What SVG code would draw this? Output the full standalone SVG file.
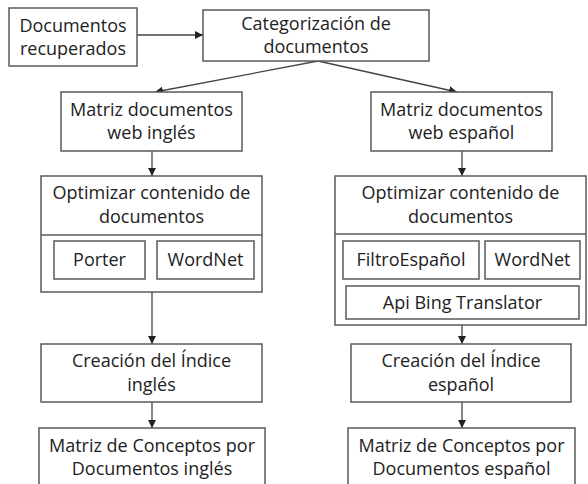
<svg xmlns="http://www.w3.org/2000/svg" width="588" height="484" viewBox="0 0 588 484">
<defs>
<style>
.b{fill:#fff;stroke:#5a5a5a;stroke-width:1.5}
.t{font-family:"Open Sans",sans-serif;font-size:18px;fill:#222;text-anchor:middle}
.c{stroke:#444;stroke-width:1.3;fill:none;marker-end:url(#ah)}
</style>
<marker id="ah" markerUnits="userSpaceOnUse" markerWidth="9" markerHeight="8" refX="8" refY="4" orient="auto">
<path d="M0,0 L8,4 L0,8 z" fill="#222"/>
</marker>
</defs>
<rect width="588" height="484" fill="#fff"/>
<g id="connectors">
<line class="c" x1="137" y1="35" x2="203" y2="35"/>
<line class="c" x1="318" y1="61" x2="155" y2="92"/>
<line class="c" x1="318" y1="61" x2="457" y2="92"/>
<line class="c" x1="152" y1="151" x2="152" y2="176"/>
<line class="c" x1="152" y1="292" x2="152" y2="344"/>
<line class="c" x1="152" y1="402" x2="152" y2="428"/>
<line class="c" x1="462" y1="151" x2="462" y2="176"/>
<line class="c" x1="462" y1="325" x2="462" y2="344"/>
<line class="c" x1="462" y1="402" x2="462" y2="428"/>
</g>
<g id="docs-recuperados">
<rect class="b" x="9" y="8" width="128" height="58"/>
<text class="t" x="73" y="32">Documentos</text>
<text class="t" x="73" y="55">recuperados</text>
</g>
<g id="categorizacion">
<rect class="b" x="203" y="10" width="226" height="51"/>
<text class="t" x="316" y="30">Categorización de</text>
<text class="t" x="316" y="53">documentos</text>
</g>
<g id="matriz-ingles">
<rect class="b" x="61" y="92" width="181" height="59"/>
<text class="t" x="151.5" y="116">Matriz documentos</text>
<text class="t" x="151.5" y="139">web inglés</text>
</g>
<g id="matriz-espanol">
<rect class="b" x="371" y="92" width="181" height="59"/>
<text class="t" x="461.5" y="116">Matriz documentos</text>
<text class="t" x="461.5" y="139">web español</text>
</g>
<g id="optimizar-ingles">
<rect class="b" x="41" y="176" width="221" height="116"/>
<line x1="41" y1="235" x2="262" y2="235" stroke="#5a5a5a" stroke-width="1.5"/>
<text class="t" x="151.5" y="199">Optimizar contenido de</text>
<text class="t" x="151.5" y="223">documentos</text>
<g id="porter">
<rect class="b" x="54" y="241" width="91" height="38"/>
<text class="t" x="99.5" y="266">Porter</text>
</g>
<g id="wordnet-ingles">
<rect class="b" x="157" y="241" width="97" height="38"/>
<text class="t" x="205.5" y="266">WordNet</text>
</g>
</g>
<g id="optimizar-espanol">
<rect class="b" x="335" y="176" width="251" height="149"/>
<line x1="335" y1="234" x2="586" y2="234" stroke="#5a5a5a" stroke-width="1.5"/>
<text class="t" x="460.5" y="199">Optimizar contenido de</text>
<text class="t" x="460.5" y="223">documentos</text>
<g id="filtro-espanol">
<rect class="b" x="343" y="241" width="136" height="38"/>
<text class="t" x="411" y="266">FiltroEspañol</text>
</g>
<g id="wordnet-espanol">
<rect class="b" x="485" y="241" width="95" height="38"/>
<text class="t" x="532.5" y="266">WordNet</text>
</g>
<g id="bing">
<rect class="b" x="346" y="286" width="233" height="33"/>
<text class="t" x="462.5" y="309">Api Bing Translator</text>
</g>
</g>
<g id="creacion-ingles">
<rect class="b" x="41" y="344" width="221" height="58"/>
<text class="t" x="151.5" y="367">Creación del Índice</text>
<text class="t" x="151.5" y="391">inglés</text>
</g>
<g id="creacion-espanol">
<rect class="b" x="351" y="344" width="220" height="58"/>
<text class="t" x="461" y="367">Creación del Índice</text>
<text class="t" x="461" y="391">español</text>
</g>
<g id="conceptos-ingles">
<rect class="b" x="39" y="428" width="226" height="64"/>
<text class="t" x="152" y="452">Matriz de Conceptos por</text>
<text class="t" x="152" y="475">Documentos inglés</text>
</g>
<g id="conceptos-espanol">
<rect class="b" x="348" y="428" width="227" height="64"/>
<text class="t" x="461.5" y="452">Matriz de Conceptos por</text>
<text class="t" x="461.5" y="475">Documentos español</text>
</g>
</svg>
